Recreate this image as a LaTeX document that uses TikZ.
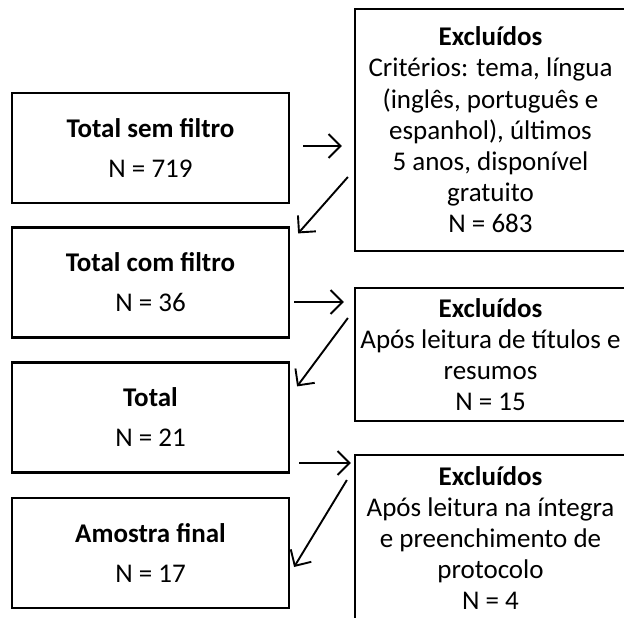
\documentclass[tikz,border=0pt]{standalone}
\usepackage{fontspec}
\setmainfont{Carlito}
\usepackage{tikz}
\usetikzlibrary{arrows.meta}

\tikzset{
  leftbox/.style={draw, line width=2.2pt, minimum width=277pt, minimum height=110pt,
    align=center, font=\fontsize{27}{40}\selectfont},
  exclbox/.style={draw, line width=2.2pt, minimum width=271pt,
    align=center, font=\fontsize{27}{31.2}\selectfont},
  seta/.style={-{Straight Barb[length=12pt,width=24pt]}, line width=1.9pt}
}

\begin{document}
\begin{tikzpicture}[x=1pt,y=1pt]
  \useasboundingbox (0,0) rectangle (624,-618);
  \clip (0,0) rectangle (624,-618);

  % Left column
  \node[leftbox] (b1) at (150.5,-148) {\textbf{Total sem filtro}\\N = 719};
  \node[leftbox] (b2) at (150.5,-282.5) {\textbf{Total com filtro}\\N = 36};
  \node[leftbox] (b3) at (150.5,-417.5) {\textbf{Total}\\N = 21};
  \node[leftbox] (b4) at (150.5,-553) {\textbf{Amostra final}\\N = 17};

  % Excluded
  \node[exclbox, minimum height=242pt] (r1) at (490.5,-130)
    {\textbf{Excluídos}\\Critérios: tema, língua\\(inglês, português e\\espanhol), últimos\\5 anos, disponível\\gratuito\\N = 683};
  \node[exclbox, minimum height=133pt] (r2) at (490.5,-354.5)
    {\textbf{Excluídos}\\Após leitura de títulos e\\resumos\\N = 15};
  \node[exclbox, minimum height=166pt] (r3) at (490.5,-538)
    {\textbf{Excluídos}\\Após leitura na íntegra\\e preenchimento de\\protocolo\\N = 4};

  % Arrows
  \draw[seta] ([xshift=13pt,yshift=2pt]b1.east) -- ([xshift=-12pt,yshift=-16pt]r1.west);
  \draw[seta] ([xshift=-6pt,yshift=-47pt]r1.west) -- ([xshift=8pt,yshift=-7pt]b2.north east);

  \draw[seta] ([xshift=4pt,yshift=-19.5pt]b2.east) -- ([xshift=-10pt,yshift=52.5pt]r2.west);
  \draw[seta] ([xshift=-6pt,yshift=36.5pt]r2.west) -- ([xshift=7pt,yshift=-25pt]b3.north east);

  \draw[seta] ([xshift=9pt,yshift=-45.5pt]b3.east) -- ([xshift=-3pt,yshift=75pt]r3.west);
  \draw[seta] ([xshift=-7pt,yshift=58pt]r3.west) -- ([xshift=4pt,yshift=-14pt]b4.east);
\end{tikzpicture}
\end{document}
